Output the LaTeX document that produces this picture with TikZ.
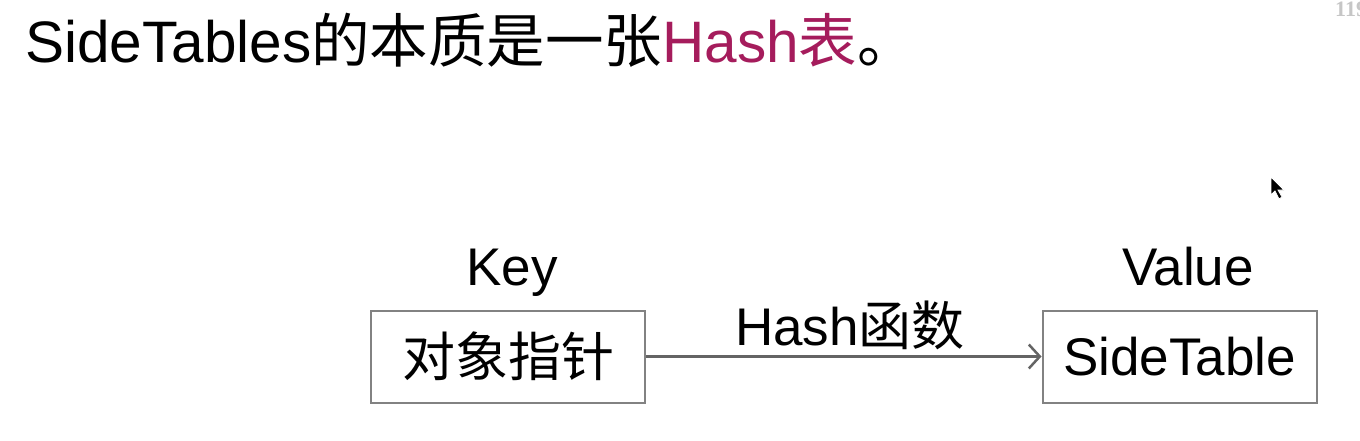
\documentclass[tikz,border=0pt]{standalone}
\usepackage{fontspec}
\setmainfont{Liberation Sans}
\newfontfamily\cjk{Noto Sans CJK SC}
\newfontfamily\pagefont{Liberation Serif}
\usetikzlibrary{arrows.meta,positioning}
\definecolor{hashred}{RGB}{165,28,92}
\definecolor{boxgray}{RGB}{130,130,130}
\definecolor{arrowgray}{RGB}{100,100,100}
\tikzset{
  cell/.style={draw=boxgray, line width=2pt, minimum width=274pt, minimum height=92pt, inner sep=0pt, font=\fontsize{53}{63}\selectfont},
  tag/.style={font=\fontsize{53}{63}\selectfont, inner sep=0pt, anchor=base},
  link/.style={draw=arrowgray, line width=2.5pt, -{Straight Barb[length=11pt,width=24pt]}},
}
\begin{document}
\begin{tikzpicture}[x=1pt,y=-1pt]
    \useasboundingbox (0,0) rectangle (1360,440);
    \fill[white] (0,0) rectangle (1360,440);
    
    % Title
    \node[anchor=base west, inner sep=0pt, font=\fontsize{58.5}{68}\selectfont] (title) at (25,62) {SideTables{\cjk 的本质是一张}{\color{hashred}Hash{\cjk 表}}{\cjk 。}};
    \node[anchor=north west, inner sep=0pt, text=gray!45, font=\pagefont\bfseries\fontsize{22}{22}\selectfont] (page) at (1335,2) {119};
    
    % Key and value
    \node[cell, font={\cjk\fontsize{53}{63}\selectfont}] (ptr) at (508,356.5) {对象指针};
    \node[cell] (tbl) at (1179.5,356.5) {SideTable};
    \node[tag] (key) at (512,285) {Key};
    \node[tag] (val) at (1188,285) {Value};
    
    % Hash function
    \node[tag] (fn) at (850,345) {Hash{\cjk 函数}};
    \draw[link] (ptr) -- (tbl);
    
    % Pointer
    \filldraw[black, draw=white, line width=0.8pt] (1271,177) -- (1271,195) -- (1275,191) -- (1279,199) -- (1282,197) -- (1278,190) -- (1284,190) -- cycle;
\end{tikzpicture}
\end{document}
